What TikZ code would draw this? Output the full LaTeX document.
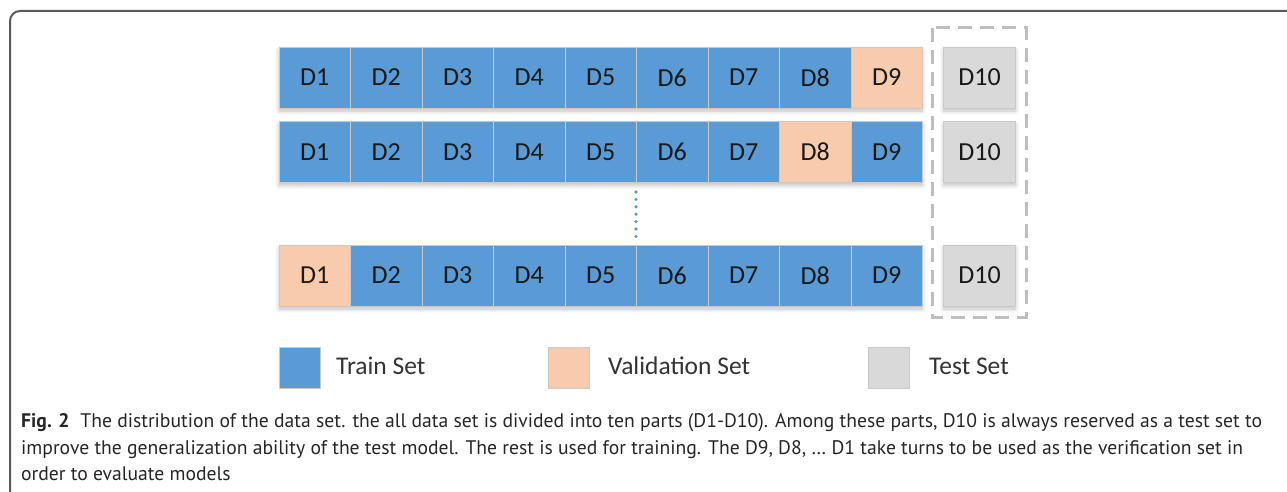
\documentclass[tikz,border=0pt]{standalone}
\usepackage{fontspec}
\usetikzlibrary{shadows.blur}
\setmainfont{Carlito}
\newfontfamily\capfont{PT Sans}
\definecolor{trainblue}{HTML}{5B9BD5}
\definecolor{valorange}{HTML}{F8CBAD}
\definecolor{testgray}{HTML}{D9D9D9}
\definecolor{cellline}{HTML}{C9C9C9}
\definecolor{framegray}{HTML}{5A5A5A}
\definecolor{dashgray}{HTML}{BEBEBE}
\definecolor{shadowblue}{HTML}{9DB9DA}
\tikzset{
  cell/.style={draw=cellline, line width=0.8pt, minimum width=71.5pt, minimum height=61pt,
    inner sep=0pt, font=\fontsize{26}{26}\selectfont, text=black!90, fill=trainblue},
  valcell/.style={cell, fill=valorange},
  testcell/.style={cell, fill=testgray, minimum width=72pt},
  softshadow/.style={blur shadow={shadow xshift=0pt, shadow yshift=-3pt, shadow opacity=25,
    shadow blur radius=4pt, shadow blur steps=6}, shadow scale=1},
  legbox/.style={draw=cellline, line width=0.6pt, minimum width=41pt, minimum height=41pt, inner sep=0pt},
  legtext/.style={anchor=west, inner sep=0pt, font=\fontsize{25.5}{25.5}\selectfont, text=black!80},
  capline/.style={anchor=base west, inner sep=0pt, font=\capfont\fontsize{19.65}{19.65}\selectfont, text=black!85}
}
\begin{document}
\begin{tikzpicture}[x=1pt,y=-1pt]
\useasboundingbox (0,0) rectangle (1287,492);
% outer frame
\draw[framegray, line width=2pt, rounded corners=10pt] (10,492) -- (10,11) -- (1287,11);
% dashed test region
\draw[dashgray, line width=3pt, dash pattern=on 14pt off 8pt] (932,28) rectangle (1026,317);
% rows
\foreach \r/\y/\v in {1/77.5/9, 2/152/8, 3/275.5/1}{
  \node[softshadow, fill=white, minimum width=643.5pt, minimum height=61pt, inner sep=0pt] (bg\r) at (600.75,\y) {};
  \node[softshadow, fill=white, minimum width=72pt, minimum height=61pt, inner sep=0pt] (tbg\r) at (979.5,\y) {};
  \foreach \c in {1,...,9}{
    \ifnum\c=\v
      \node[valcell] (r\r c\c) at ({279+71.5*(\c-0.5)},\y) {D\c};
    \else
      \node[cell] (r\r c\c) at ({279+71.5*(\c-0.5)},\y) {D\c};
    \fi
  }
  \node[testcell] (t\r) at (979.5,\y) {D10};
}
% dotted ellipsis
\coordinate (dtop) at (636,192);
\coordinate (dbot) at (636,237);
\draw[trainblue, line width=3.6pt, line cap=round, dash pattern=on 0pt off 7.4pt] (dtop) -- (dbot);
% legend
\node[legbox, fill=trainblue] (lg1) at (299.5,367.5) {};
\node[legtext] (lt1) at (336,366) {Train Set};
\node[legbox, fill=valorange] (lg2) at (568.5,367.5) {};
\node[legtext] (lt2) at (608,366) {Validation Set};
\node[legbox, fill=testgray] (lg3) at (889,367.5) {};
\node[legtext] (lt3) at (929,366) {Test Set};
% caption
\node[capline] (c1) at (21,427) {\textbf{Fig. 2}\hspace{0.55em}The distribution of the data set. the all data set is divided into ten parts (D1-D10). Among these parts, D10 is always reserved as a test set to};
\node[capline] (c2) at (21,454) {improve the generalization ability of the test model. The rest is used for training. The D9, D8, \dots\ D1 take turns to be used as the verification set in};
\node[capline] (c3) at (21,480) {order to evaluate models};
\end{tikzpicture}
\end{document}
